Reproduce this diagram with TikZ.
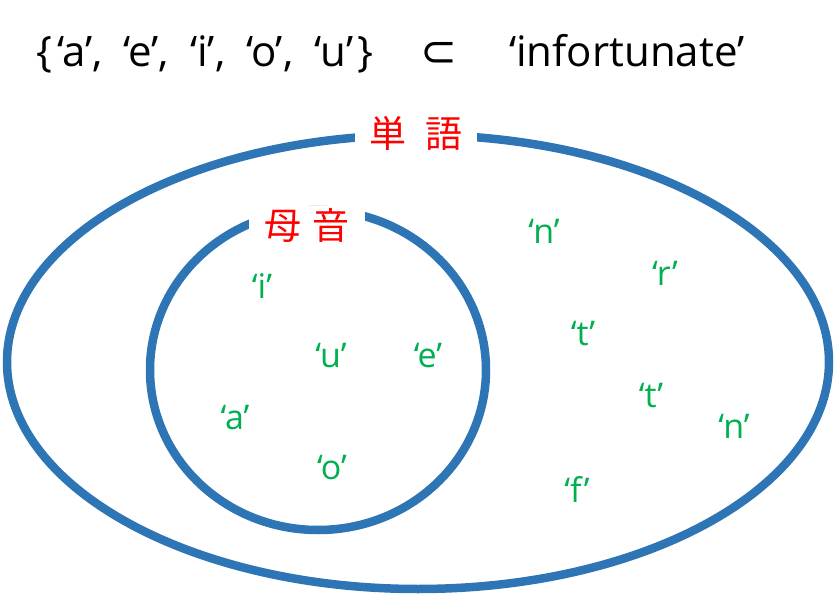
\documentclass[tikz,border=0pt]{standalone}
\usepackage{fontspec}
\setmainfont{Open Sans}
\newfontfamily\cjk{Noto Sans CJK JP}
\newfontfamily\symfont{DejaVu Sans}
\definecolor{setblue}{RGB}{46,117,182}
\definecolor{elemgreen}{RGB}{0,176,80}
\definecolor{labred}{RGB}{255,0,0}
\newcommand{\sep}{,\hspace{0.5em}}
\begin{document}
\begin{tikzpicture}[x=1pt,y=-1pt,
  setline/.style={draw=setblue,line width=8.5pt},
  elem/.style={text=elemgreen,font=\fontsize{34}{38}\selectfont,inner sep=0pt},
  setlabel/.style={fill=white,text=labred,font=\cjk\fontsize{37}{40}\selectfont,inner xsep=15pt,inner ysep=2pt},
  titletext/.style={font=\fontsize{42}{48}\selectfont,inner sep=0pt,anchor=base west}]
\useasboundingbox (0,0) rectangle (836,599);
\draw[setline] (418,362) ellipse [x radius=411,y radius=227];
\draw[setline] (318,370) ellipse [x radius=168,y radius=160];
\node[setlabel] (word) at (416,133) {単\hspace{0.5em}語};
\node[setlabel] (vowel) at (307,225) {母\hspace{0.3em}音};
\node[titletext] (setA) at (36,67) {\{\hspace{0.12em}‘a’\sep‘e’\sep‘i’\sep‘o’\sep‘u’\hspace{0.1em}\}};
\node[titletext,anchor=base,font=\symfont\fontsize{44}{48}\selectfont] (sub) at (439,67) {⊂};
\node[titletext] (wordB) at (509,67) {‘infortunate’};
\node[elem] (n1) at (544,231) {‘n’};
\node[elem] (r1) at (665,273) {‘r’};
\node[elem] (i1) at (262,286) {‘i’};
\node[elem] (u1) at (331,356) {‘u’};
\node[elem] (e1) at (428,356) {‘e’};
\node[elem] (t1) at (583,334) {‘t’};
\node[elem] (t2) at (651,396) {‘t’};
\node[elem] (a1) at (235,418) {‘a’};
\node[elem] (n2) at (734,426) {‘n’};
\node[elem] (o1) at (332,468) {‘o’};
\node[elem] (f1) at (577,489) {‘f’};
\end{tikzpicture}
\end{document}
